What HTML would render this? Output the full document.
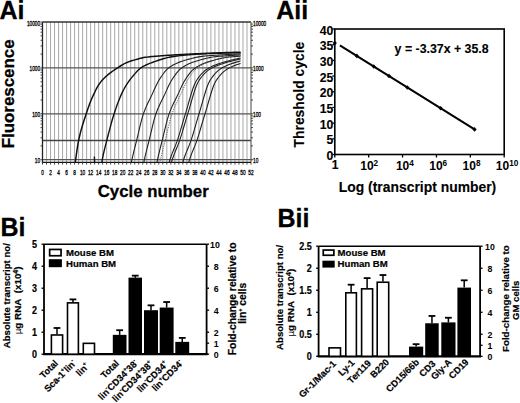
<!DOCTYPE html>
<html><head><meta charset="utf-8"><style>html,body{margin:0;padding:0;background:#fff;overflow:hidden}svg{display:block}text{font-family:"Liberation Sans",sans-serif}</style></head>
<body>
<svg width="520" height="403" viewBox="0 0 520 403">
<defs><clipPath id="clipA"><rect x="42.5" y="22.0" width="208.5" height="140.4"/></clipPath></defs>
<rect width="520" height="403" fill="#fff"/>
<text x="-0.5" y="18.6" font-family="Liberation Sans" font-size="25" font-weight="bold" text-anchor="start" fill="#000" stroke="#000" stroke-width="0.3">Ai</text>
<line x1="46.51" y1="22" x2="46.51" y2="162.4" stroke="#acacac" stroke-width="1.05"/>
<line x1="50.52" y1="22" x2="50.52" y2="162.4" stroke="#acacac" stroke-width="1.05"/>
<line x1="54.53" y1="22" x2="54.53" y2="162.4" stroke="#acacac" stroke-width="1.05"/>
<line x1="58.54" y1="22" x2="58.54" y2="162.4" stroke="#acacac" stroke-width="1.05"/>
<line x1="62.55" y1="22" x2="62.55" y2="162.4" stroke="#acacac" stroke-width="1.05"/>
<line x1="66.56" y1="22" x2="66.56" y2="162.4" stroke="#acacac" stroke-width="1.05"/>
<line x1="70.57" y1="22" x2="70.57" y2="162.4" stroke="#acacac" stroke-width="1.05"/>
<line x1="74.58" y1="22" x2="74.58" y2="162.4" stroke="#acacac" stroke-width="1.05"/>
<line x1="78.59" y1="22" x2="78.59" y2="162.4" stroke="#acacac" stroke-width="1.05"/>
<line x1="82.6" y1="22" x2="82.6" y2="162.4" stroke="#acacac" stroke-width="1.05"/>
<line x1="86.61" y1="22" x2="86.61" y2="162.4" stroke="#acacac" stroke-width="1.05"/>
<line x1="90.62" y1="22" x2="90.62" y2="162.4" stroke="#acacac" stroke-width="1.05"/>
<line x1="94.62" y1="22" x2="94.62" y2="162.4" stroke="#acacac" stroke-width="1.05"/>
<line x1="98.63" y1="22" x2="98.63" y2="162.4" stroke="#acacac" stroke-width="1.05"/>
<line x1="102.64" y1="22" x2="102.64" y2="162.4" stroke="#acacac" stroke-width="1.05"/>
<line x1="106.65" y1="22" x2="106.65" y2="162.4" stroke="#acacac" stroke-width="1.05"/>
<line x1="110.66" y1="22" x2="110.66" y2="162.4" stroke="#acacac" stroke-width="1.05"/>
<line x1="114.67" y1="22" x2="114.67" y2="162.4" stroke="#acacac" stroke-width="1.05"/>
<line x1="118.68" y1="22" x2="118.68" y2="162.4" stroke="#acacac" stroke-width="1.05"/>
<line x1="122.69" y1="22" x2="122.69" y2="162.4" stroke="#acacac" stroke-width="1.05"/>
<line x1="126.7" y1="22" x2="126.7" y2="162.4" stroke="#acacac" stroke-width="1.05"/>
<line x1="130.71" y1="22" x2="130.71" y2="162.4" stroke="#acacac" stroke-width="1.05"/>
<line x1="134.72" y1="22" x2="134.72" y2="162.4" stroke="#acacac" stroke-width="1.05"/>
<line x1="138.73" y1="22" x2="138.73" y2="162.4" stroke="#acacac" stroke-width="1.05"/>
<line x1="142.74" y1="22" x2="142.74" y2="162.4" stroke="#acacac" stroke-width="1.05"/>
<line x1="146.75" y1="22" x2="146.75" y2="162.4" stroke="#acacac" stroke-width="1.05"/>
<line x1="150.76" y1="22" x2="150.76" y2="162.4" stroke="#acacac" stroke-width="1.05"/>
<line x1="154.77" y1="22" x2="154.77" y2="162.4" stroke="#acacac" stroke-width="1.05"/>
<line x1="158.78" y1="22" x2="158.78" y2="162.4" stroke="#acacac" stroke-width="1.05"/>
<line x1="162.79" y1="22" x2="162.79" y2="162.4" stroke="#acacac" stroke-width="1.05"/>
<line x1="166.8" y1="22" x2="166.8" y2="162.4" stroke="#acacac" stroke-width="1.05"/>
<line x1="170.81" y1="22" x2="170.81" y2="162.4" stroke="#acacac" stroke-width="1.05"/>
<line x1="174.82" y1="22" x2="174.82" y2="162.4" stroke="#acacac" stroke-width="1.05"/>
<line x1="178.83" y1="22" x2="178.83" y2="162.4" stroke="#acacac" stroke-width="1.05"/>
<line x1="182.84" y1="22" x2="182.84" y2="162.4" stroke="#acacac" stroke-width="1.05"/>
<line x1="186.85" y1="22" x2="186.85" y2="162.4" stroke="#acacac" stroke-width="1.05"/>
<line x1="190.86" y1="22" x2="190.86" y2="162.4" stroke="#acacac" stroke-width="1.05"/>
<line x1="194.87" y1="22" x2="194.87" y2="162.4" stroke="#acacac" stroke-width="1.05"/>
<line x1="198.88" y1="22" x2="198.88" y2="162.4" stroke="#acacac" stroke-width="1.05"/>
<line x1="202.88" y1="22" x2="202.88" y2="162.4" stroke="#acacac" stroke-width="1.05"/>
<line x1="206.89" y1="22" x2="206.89" y2="162.4" stroke="#acacac" stroke-width="1.05"/>
<line x1="210.9" y1="22" x2="210.9" y2="162.4" stroke="#acacac" stroke-width="1.05"/>
<line x1="214.91" y1="22" x2="214.91" y2="162.4" stroke="#acacac" stroke-width="1.05"/>
<line x1="218.92" y1="22" x2="218.92" y2="162.4" stroke="#acacac" stroke-width="1.05"/>
<line x1="222.93" y1="22" x2="222.93" y2="162.4" stroke="#acacac" stroke-width="1.05"/>
<line x1="226.94" y1="22" x2="226.94" y2="162.4" stroke="#acacac" stroke-width="1.05"/>
<line x1="230.95" y1="22" x2="230.95" y2="162.4" stroke="#acacac" stroke-width="1.05"/>
<line x1="234.96" y1="22" x2="234.96" y2="162.4" stroke="#acacac" stroke-width="1.05"/>
<line x1="238.97" y1="22" x2="238.97" y2="162.4" stroke="#acacac" stroke-width="1.05"/>
<line x1="242.98" y1="22" x2="242.98" y2="162.4" stroke="#acacac" stroke-width="1.05"/>
<line x1="246.99" y1="22" x2="246.99" y2="162.4" stroke="#acacac" stroke-width="1.05"/>
<line x1="42.5" y1="67.9" x2="251" y2="67.9" stroke="#555" stroke-width="1.3"/>
<line x1="42.5" y1="113.8" x2="251" y2="113.8" stroke="#555" stroke-width="1.3"/>
<line x1="42.5" y1="159.7" x2="251" y2="159.7" stroke="#555" stroke-width="1.3"/>
<line x1="42.5" y1="140.5" x2="251" y2="140.5" stroke="#444" stroke-width="1.6"/>
<line x1="42.5" y1="22" x2="251" y2="22" stroke="#333" stroke-width="1.3"/>
<line x1="251" y1="22" x2="251" y2="162.4" stroke="#555" stroke-width="1.1"/>
<line x1="42.5" y1="22" x2="42.5" y2="163.4" stroke="#222" stroke-width="1.3"/>
<line x1="42.5" y1="162.4" x2="251" y2="162.4" stroke="#111" stroke-width="1.4"/>
<line x1="42.5" y1="162.4" x2="42.5" y2="164.6" stroke="#333" stroke-width="0.9"/>
<line x1="46.51" y1="162.4" x2="46.51" y2="164.6" stroke="#333" stroke-width="0.9"/>
<line x1="50.52" y1="162.4" x2="50.52" y2="164.6" stroke="#333" stroke-width="0.9"/>
<line x1="54.53" y1="162.4" x2="54.53" y2="164.6" stroke="#333" stroke-width="0.9"/>
<line x1="58.54" y1="162.4" x2="58.54" y2="164.6" stroke="#333" stroke-width="0.9"/>
<line x1="62.55" y1="162.4" x2="62.55" y2="164.6" stroke="#333" stroke-width="0.9"/>
<line x1="66.56" y1="162.4" x2="66.56" y2="164.6" stroke="#333" stroke-width="0.9"/>
<line x1="70.57" y1="162.4" x2="70.57" y2="164.6" stroke="#333" stroke-width="0.9"/>
<line x1="74.58" y1="162.4" x2="74.58" y2="164.6" stroke="#333" stroke-width="0.9"/>
<line x1="78.59" y1="162.4" x2="78.59" y2="164.6" stroke="#333" stroke-width="0.9"/>
<line x1="82.6" y1="162.4" x2="82.6" y2="164.6" stroke="#333" stroke-width="0.9"/>
<line x1="86.61" y1="162.4" x2="86.61" y2="164.6" stroke="#333" stroke-width="0.9"/>
<line x1="90.62" y1="162.4" x2="90.62" y2="164.6" stroke="#333" stroke-width="0.9"/>
<line x1="94.62" y1="162.4" x2="94.62" y2="164.6" stroke="#333" stroke-width="0.9"/>
<line x1="98.63" y1="162.4" x2="98.63" y2="164.6" stroke="#333" stroke-width="0.9"/>
<line x1="102.64" y1="162.4" x2="102.64" y2="164.6" stroke="#333" stroke-width="0.9"/>
<line x1="106.65" y1="162.4" x2="106.65" y2="164.6" stroke="#333" stroke-width="0.9"/>
<line x1="110.66" y1="162.4" x2="110.66" y2="164.6" stroke="#333" stroke-width="0.9"/>
<line x1="114.67" y1="162.4" x2="114.67" y2="164.6" stroke="#333" stroke-width="0.9"/>
<line x1="118.68" y1="162.4" x2="118.68" y2="164.6" stroke="#333" stroke-width="0.9"/>
<line x1="122.69" y1="162.4" x2="122.69" y2="164.6" stroke="#333" stroke-width="0.9"/>
<line x1="126.7" y1="162.4" x2="126.7" y2="164.6" stroke="#333" stroke-width="0.9"/>
<line x1="130.71" y1="162.4" x2="130.71" y2="164.6" stroke="#333" stroke-width="0.9"/>
<line x1="134.72" y1="162.4" x2="134.72" y2="164.6" stroke="#333" stroke-width="0.9"/>
<line x1="138.73" y1="162.4" x2="138.73" y2="164.6" stroke="#333" stroke-width="0.9"/>
<line x1="142.74" y1="162.4" x2="142.74" y2="164.6" stroke="#333" stroke-width="0.9"/>
<line x1="146.75" y1="162.4" x2="146.75" y2="164.6" stroke="#333" stroke-width="0.9"/>
<line x1="150.76" y1="162.4" x2="150.76" y2="164.6" stroke="#333" stroke-width="0.9"/>
<line x1="154.77" y1="162.4" x2="154.77" y2="164.6" stroke="#333" stroke-width="0.9"/>
<line x1="158.78" y1="162.4" x2="158.78" y2="164.6" stroke="#333" stroke-width="0.9"/>
<line x1="162.79" y1="162.4" x2="162.79" y2="164.6" stroke="#333" stroke-width="0.9"/>
<line x1="166.8" y1="162.4" x2="166.8" y2="164.6" stroke="#333" stroke-width="0.9"/>
<line x1="170.81" y1="162.4" x2="170.81" y2="164.6" stroke="#333" stroke-width="0.9"/>
<line x1="174.82" y1="162.4" x2="174.82" y2="164.6" stroke="#333" stroke-width="0.9"/>
<line x1="178.83" y1="162.4" x2="178.83" y2="164.6" stroke="#333" stroke-width="0.9"/>
<line x1="182.84" y1="162.4" x2="182.84" y2="164.6" stroke="#333" stroke-width="0.9"/>
<line x1="186.85" y1="162.4" x2="186.85" y2="164.6" stroke="#333" stroke-width="0.9"/>
<line x1="190.86" y1="162.4" x2="190.86" y2="164.6" stroke="#333" stroke-width="0.9"/>
<line x1="194.87" y1="162.4" x2="194.87" y2="164.6" stroke="#333" stroke-width="0.9"/>
<line x1="198.88" y1="162.4" x2="198.88" y2="164.6" stroke="#333" stroke-width="0.9"/>
<line x1="202.88" y1="162.4" x2="202.88" y2="164.6" stroke="#333" stroke-width="0.9"/>
<line x1="206.89" y1="162.4" x2="206.89" y2="164.6" stroke="#333" stroke-width="0.9"/>
<line x1="210.9" y1="162.4" x2="210.9" y2="164.6" stroke="#333" stroke-width="0.9"/>
<line x1="214.91" y1="162.4" x2="214.91" y2="164.6" stroke="#333" stroke-width="0.9"/>
<line x1="218.92" y1="162.4" x2="218.92" y2="164.6" stroke="#333" stroke-width="0.9"/>
<line x1="222.93" y1="162.4" x2="222.93" y2="164.6" stroke="#333" stroke-width="0.9"/>
<line x1="226.94" y1="162.4" x2="226.94" y2="164.6" stroke="#333" stroke-width="0.9"/>
<line x1="230.95" y1="162.4" x2="230.95" y2="164.6" stroke="#333" stroke-width="0.9"/>
<line x1="234.96" y1="162.4" x2="234.96" y2="164.6" stroke="#333" stroke-width="0.9"/>
<line x1="238.97" y1="162.4" x2="238.97" y2="164.6" stroke="#333" stroke-width="0.9"/>
<line x1="242.98" y1="162.4" x2="242.98" y2="164.6" stroke="#333" stroke-width="0.9"/>
<line x1="246.99" y1="162.4" x2="246.99" y2="164.6" stroke="#333" stroke-width="0.9"/>
<line x1="251" y1="162.4" x2="251" y2="164.6" stroke="#333" stroke-width="0.9"/>
<line x1="40.5" y1="159.7" x2="42.5" y2="159.7" stroke="#333" stroke-width="0.9"/>
<line x1="40.5" y1="145.88" x2="42.5" y2="145.88" stroke="#333" stroke-width="0.9"/>
<line x1="40.5" y1="137.8" x2="42.5" y2="137.8" stroke="#333" stroke-width="0.9"/>
<line x1="40.5" y1="132.07" x2="42.5" y2="132.07" stroke="#333" stroke-width="0.9"/>
<line x1="40.5" y1="127.62" x2="42.5" y2="127.62" stroke="#333" stroke-width="0.9"/>
<line x1="40.5" y1="123.98" x2="42.5" y2="123.98" stroke="#333" stroke-width="0.9"/>
<line x1="40.5" y1="120.91" x2="42.5" y2="120.91" stroke="#333" stroke-width="0.9"/>
<line x1="40.5" y1="118.25" x2="42.5" y2="118.25" stroke="#333" stroke-width="0.9"/>
<line x1="40.5" y1="115.9" x2="42.5" y2="115.9" stroke="#333" stroke-width="0.9"/>
<line x1="40.5" y1="113.8" x2="42.5" y2="113.8" stroke="#333" stroke-width="0.9"/>
<line x1="40.5" y1="99.98" x2="42.5" y2="99.98" stroke="#333" stroke-width="0.9"/>
<line x1="40.5" y1="91.9" x2="42.5" y2="91.9" stroke="#333" stroke-width="0.9"/>
<line x1="40.5" y1="86.17" x2="42.5" y2="86.17" stroke="#333" stroke-width="0.9"/>
<line x1="40.5" y1="81.72" x2="42.5" y2="81.72" stroke="#333" stroke-width="0.9"/>
<line x1="40.5" y1="78.08" x2="42.5" y2="78.08" stroke="#333" stroke-width="0.9"/>
<line x1="40.5" y1="75.01" x2="42.5" y2="75.01" stroke="#333" stroke-width="0.9"/>
<line x1="40.5" y1="72.35" x2="42.5" y2="72.35" stroke="#333" stroke-width="0.9"/>
<line x1="40.5" y1="70" x2="42.5" y2="70" stroke="#333" stroke-width="0.9"/>
<line x1="40.5" y1="67.9" x2="42.5" y2="67.9" stroke="#333" stroke-width="0.9"/>
<line x1="40.5" y1="54.08" x2="42.5" y2="54.08" stroke="#333" stroke-width="0.9"/>
<line x1="40.5" y1="46" x2="42.5" y2="46" stroke="#333" stroke-width="0.9"/>
<line x1="40.5" y1="40.27" x2="42.5" y2="40.27" stroke="#333" stroke-width="0.9"/>
<line x1="40.5" y1="35.82" x2="42.5" y2="35.82" stroke="#333" stroke-width="0.9"/>
<line x1="40.5" y1="32.18" x2="42.5" y2="32.18" stroke="#333" stroke-width="0.9"/>
<line x1="40.5" y1="29.11" x2="42.5" y2="29.11" stroke="#333" stroke-width="0.9"/>
<line x1="40.5" y1="26.45" x2="42.5" y2="26.45" stroke="#333" stroke-width="0.9"/>
<line x1="40.5" y1="24.1" x2="42.5" y2="24.1" stroke="#333" stroke-width="0.9"/>
<line x1="40.5" y1="22" x2="42.5" y2="22" stroke="#333" stroke-width="0.9"/>
<line x1="251" y1="159.7" x2="253" y2="159.7" stroke="#333" stroke-width="0.9"/>
<line x1="251" y1="145.88" x2="253" y2="145.88" stroke="#333" stroke-width="0.9"/>
<line x1="251" y1="137.8" x2="253" y2="137.8" stroke="#333" stroke-width="0.9"/>
<line x1="251" y1="132.07" x2="253" y2="132.07" stroke="#333" stroke-width="0.9"/>
<line x1="251" y1="127.62" x2="253" y2="127.62" stroke="#333" stroke-width="0.9"/>
<line x1="251" y1="123.98" x2="253" y2="123.98" stroke="#333" stroke-width="0.9"/>
<line x1="251" y1="120.91" x2="253" y2="120.91" stroke="#333" stroke-width="0.9"/>
<line x1="251" y1="118.25" x2="253" y2="118.25" stroke="#333" stroke-width="0.9"/>
<line x1="251" y1="115.9" x2="253" y2="115.9" stroke="#333" stroke-width="0.9"/>
<line x1="251" y1="113.8" x2="253" y2="113.8" stroke="#333" stroke-width="0.9"/>
<line x1="251" y1="99.98" x2="253" y2="99.98" stroke="#333" stroke-width="0.9"/>
<line x1="251" y1="91.9" x2="253" y2="91.9" stroke="#333" stroke-width="0.9"/>
<line x1="251" y1="86.17" x2="253" y2="86.17" stroke="#333" stroke-width="0.9"/>
<line x1="251" y1="81.72" x2="253" y2="81.72" stroke="#333" stroke-width="0.9"/>
<line x1="251" y1="78.08" x2="253" y2="78.08" stroke="#333" stroke-width="0.9"/>
<line x1="251" y1="75.01" x2="253" y2="75.01" stroke="#333" stroke-width="0.9"/>
<line x1="251" y1="72.35" x2="253" y2="72.35" stroke="#333" stroke-width="0.9"/>
<line x1="251" y1="70" x2="253" y2="70" stroke="#333" stroke-width="0.9"/>
<line x1="251" y1="67.9" x2="253" y2="67.9" stroke="#333" stroke-width="0.9"/>
<line x1="251" y1="54.08" x2="253" y2="54.08" stroke="#333" stroke-width="0.9"/>
<line x1="251" y1="46" x2="253" y2="46" stroke="#333" stroke-width="0.9"/>
<line x1="251" y1="40.27" x2="253" y2="40.27" stroke="#333" stroke-width="0.9"/>
<line x1="251" y1="35.82" x2="253" y2="35.82" stroke="#333" stroke-width="0.9"/>
<line x1="251" y1="32.18" x2="253" y2="32.18" stroke="#333" stroke-width="0.9"/>
<line x1="251" y1="29.11" x2="253" y2="29.11" stroke="#333" stroke-width="0.9"/>
<line x1="251" y1="26.45" x2="253" y2="26.45" stroke="#333" stroke-width="0.9"/>
<line x1="251" y1="24.1" x2="253" y2="24.1" stroke="#333" stroke-width="0.9"/>
<text x="0" y="0" font-family="Liberation Sans" font-size="7.9" text-anchor="end" fill="#000" stroke="#000" stroke-width="0.35" transform="translate(40.1,25.5) scale(0.6,1)">10000</text>
<text x="0" y="0" font-family="Liberation Sans" font-size="7.9" text-anchor="start" fill="#000" stroke="#000" stroke-width="0.35" transform="translate(253,25.5) scale(0.6,1)">10000</text>
<text x="0" y="0" font-family="Liberation Sans" font-size="7.9" text-anchor="end" fill="#000" stroke="#000" stroke-width="0.35" transform="translate(40.1,71.4) scale(0.6,1)">1000</text>
<text x="0" y="0" font-family="Liberation Sans" font-size="7.9" text-anchor="start" fill="#000" stroke="#000" stroke-width="0.35" transform="translate(253,71.4) scale(0.6,1)">1000</text>
<text x="0" y="0" font-family="Liberation Sans" font-size="7.9" text-anchor="end" fill="#000" stroke="#000" stroke-width="0.35" transform="translate(40.1,117.3) scale(0.6,1)">100</text>
<text x="0" y="0" font-family="Liberation Sans" font-size="7.9" text-anchor="start" fill="#000" stroke="#000" stroke-width="0.35" transform="translate(253,117.3) scale(0.6,1)">100</text>
<text x="0" y="0" font-family="Liberation Sans" font-size="7.9" text-anchor="end" fill="#000" stroke="#000" stroke-width="0.35" transform="translate(40.1,163.2) scale(0.6,1)">10</text>
<text x="0" y="0" font-family="Liberation Sans" font-size="7.9" text-anchor="start" fill="#000" stroke="#000" stroke-width="0.35" transform="translate(253,163.2) scale(0.6,1)">10</text>
<text x="0" y="0" font-family="Liberation Sans" font-size="7.9" text-anchor="middle" fill="#000" stroke="#000" stroke-width="0.35" transform="translate(42.5,174.7) scale(0.6,1)">0</text>
<text x="0" y="0" font-family="Liberation Sans" font-size="7.9" text-anchor="middle" fill="#000" stroke="#000" stroke-width="0.35" transform="translate(50.52,174.7) scale(0.6,1)">2</text>
<text x="0" y="0" font-family="Liberation Sans" font-size="7.9" text-anchor="middle" fill="#000" stroke="#000" stroke-width="0.35" transform="translate(58.54,174.7) scale(0.6,1)">4</text>
<text x="0" y="0" font-family="Liberation Sans" font-size="7.9" text-anchor="middle" fill="#000" stroke="#000" stroke-width="0.35" transform="translate(66.56,174.7) scale(0.6,1)">6</text>
<text x="0" y="0" font-family="Liberation Sans" font-size="7.9" text-anchor="middle" fill="#000" stroke="#000" stroke-width="0.35" transform="translate(74.58,174.7) scale(0.6,1)">8</text>
<text x="0" y="0" font-family="Liberation Sans" font-size="7.9" text-anchor="middle" fill="#000" stroke="#000" stroke-width="0.35" transform="translate(82.6,174.7) scale(0.6,1)">10</text>
<text x="0" y="0" font-family="Liberation Sans" font-size="7.9" text-anchor="middle" fill="#000" stroke="#000" stroke-width="0.35" transform="translate(90.62,174.7) scale(0.6,1)">12</text>
<text x="0" y="0" font-family="Liberation Sans" font-size="7.9" text-anchor="middle" fill="#000" stroke="#000" stroke-width="0.35" transform="translate(98.63,174.7) scale(0.6,1)">14</text>
<text x="0" y="0" font-family="Liberation Sans" font-size="7.9" text-anchor="middle" fill="#000" stroke="#000" stroke-width="0.35" transform="translate(106.65,174.7) scale(0.6,1)">16</text>
<text x="0" y="0" font-family="Liberation Sans" font-size="7.9" text-anchor="middle" fill="#000" stroke="#000" stroke-width="0.35" transform="translate(114.67,174.7) scale(0.6,1)">18</text>
<text x="0" y="0" font-family="Liberation Sans" font-size="7.9" text-anchor="middle" fill="#000" stroke="#000" stroke-width="0.35" transform="translate(122.69,174.7) scale(0.6,1)">20</text>
<text x="0" y="0" font-family="Liberation Sans" font-size="7.9" text-anchor="middle" fill="#000" stroke="#000" stroke-width="0.35" transform="translate(130.71,174.7) scale(0.6,1)">22</text>
<text x="0" y="0" font-family="Liberation Sans" font-size="7.9" text-anchor="middle" fill="#000" stroke="#000" stroke-width="0.35" transform="translate(138.73,174.7) scale(0.6,1)">24</text>
<text x="0" y="0" font-family="Liberation Sans" font-size="7.9" text-anchor="middle" fill="#000" stroke="#000" stroke-width="0.35" transform="translate(146.75,174.7) scale(0.6,1)">26</text>
<text x="0" y="0" font-family="Liberation Sans" font-size="7.9" text-anchor="middle" fill="#000" stroke="#000" stroke-width="0.35" transform="translate(154.77,174.7) scale(0.6,1)">28</text>
<text x="0" y="0" font-family="Liberation Sans" font-size="7.9" text-anchor="middle" fill="#000" stroke="#000" stroke-width="0.35" transform="translate(162.79,174.7) scale(0.6,1)">30</text>
<text x="0" y="0" font-family="Liberation Sans" font-size="7.9" text-anchor="middle" fill="#000" stroke="#000" stroke-width="0.35" transform="translate(170.81,174.7) scale(0.6,1)">32</text>
<text x="0" y="0" font-family="Liberation Sans" font-size="7.9" text-anchor="middle" fill="#000" stroke="#000" stroke-width="0.35" transform="translate(178.83,174.7) scale(0.6,1)">34</text>
<text x="0" y="0" font-family="Liberation Sans" font-size="7.9" text-anchor="middle" fill="#000" stroke="#000" stroke-width="0.35" transform="translate(186.85,174.7) scale(0.6,1)">36</text>
<text x="0" y="0" font-family="Liberation Sans" font-size="7.9" text-anchor="middle" fill="#000" stroke="#000" stroke-width="0.35" transform="translate(194.87,174.7) scale(0.6,1)">38</text>
<text x="0" y="0" font-family="Liberation Sans" font-size="7.9" text-anchor="middle" fill="#000" stroke="#000" stroke-width="0.35" transform="translate(202.88,174.7) scale(0.6,1)">40</text>
<text x="0" y="0" font-family="Liberation Sans" font-size="7.9" text-anchor="middle" fill="#000" stroke="#000" stroke-width="0.35" transform="translate(210.9,174.7) scale(0.6,1)">42</text>
<text x="0" y="0" font-family="Liberation Sans" font-size="7.9" text-anchor="middle" fill="#000" stroke="#000" stroke-width="0.35" transform="translate(218.92,174.7) scale(0.6,1)">44</text>
<text x="0" y="0" font-family="Liberation Sans" font-size="7.9" text-anchor="middle" fill="#000" stroke="#000" stroke-width="0.35" transform="translate(226.94,174.7) scale(0.6,1)">46</text>
<text x="0" y="0" font-family="Liberation Sans" font-size="7.9" text-anchor="middle" fill="#000" stroke="#000" stroke-width="0.35" transform="translate(234.96,174.7) scale(0.6,1)">48</text>
<text x="0" y="0" font-family="Liberation Sans" font-size="7.9" text-anchor="middle" fill="#000" stroke="#000" stroke-width="0.35" transform="translate(242.98,174.7) scale(0.6,1)">50</text>
<text x="0" y="0" font-family="Liberation Sans" font-size="7.9" text-anchor="middle" fill="#000" stroke="#000" stroke-width="0.35" transform="translate(251,174.7) scale(0.6,1)">52</text>
<g clip-path="url(#clipA)">
<path d="M73.90,171.23 L74.70,165.95 L75.50,160.66 L76.30,155.05 L77.10,149.41 L77.90,144.26 L78.71,140.07 L79.51,136.47 L80.31,133.16 L81.11,130.10 L81.91,127.25 L82.72,124.57 L83.52,122.00 L84.32,119.52 L85.12,117.08 L85.92,114.62 L86.73,112.19 L87.53,109.81 L88.33,107.49 L89.13,105.25 L89.93,103.10 L90.74,101.04 L92.34,97.27 L93.94,93.82 L95.55,90.52 L97.15,87.47 L98.75,84.73 L100.36,82.39 L101.96,80.47 L103.57,78.74 L105.17,77.16 L106.77,75.70 L108.38,74.34 L109.98,73.08 L111.59,71.89 L113.19,70.76 L114.79,69.67 L116.40,68.60 L118.00,67.54 L119.60,66.50 L121.21,65.50 L122.81,64.56 L124.42,63.69 L126.02,62.90 L127.62,62.21 L129.23,61.61 L130.83,61.06 L132.44,60.56 L134.04,60.10 L135.64,59.64 L137.25,59.18 L138.85,58.72 L140.45,58.30 L142.06,57.91 L143.66,57.59 L145.27,57.34 L146.87,57.13 L148.47,56.94 L150.08,56.76 L151.68,56.59 L153.29,56.44 L154.89,56.30 L156.49,56.16 L158.10,56.04 L159.70,55.92 L161.30,55.80 L162.91,55.69 L164.51,55.58 L166.12,55.48 L167.72,55.37 L169.32,55.26 L170.93,55.16 L172.53,55.05 L174.14,54.95 L175.74,54.86 L177.34,54.76 L178.95,54.67 L180.55,54.57 L182.15,54.49 L183.76,54.40 L185.36,54.31 L186.97,54.23 L188.57,54.15 L190.17,54.07 L191.78,53.99 L193.38,53.92 L194.99,53.84 L196.59,53.77 L198.19,53.70 L199.80,53.63 L201.40,53.56 L203.00,53.49 L204.61,53.42 L206.21,53.35 L207.82,53.28 L209.42,53.22 L211.02,53.15 L212.63,53.09 L214.23,53.02 L215.84,52.96 L217.44,52.90 L219.04,52.83 L220.65,52.77 L222.25,52.72 L223.85,52.66 L225.46,52.60 L227.06,52.54 L228.67,52.49 L230.27,52.44 L231.87,52.38 L233.48,52.33 L235.08,52.28 L236.69,52.24 L238.29,52.19 L239.89,52.14 L240.57,52.13" stroke="#111" stroke-width="1.5" fill="none" stroke-linejoin="round"/>
<path d="M94.34,156.44 L95.15,171.86 L95.95,181.60 L96.75,186.55 L97.55,187.56 L98.35,185.50 L99.16,181.22 L99.96,175.60 L100.76,169.49 L101.56,163.76 L102.36,159.13 L103.17,155.17 L103.97,151.61 L104.77,148.32 L105.57,145.19 L106.37,142.09 L107.18,138.92 L107.98,135.77 L108.78,132.65 L109.58,129.58 L110.38,126.58 L111.18,123.65 L111.99,120.81 L112.79,118.07 L113.59,115.44 L114.39,112.93 L115.19,110.50 L116.00,108.14 L116.80,105.85 L117.60,103.63 L118.40,101.49 L119.20,99.44 L120.81,95.61 L122.41,92.14 L124.02,88.98 L125.62,86.13 L127.22,83.60 L128.83,81.28 L130.43,79.14 L132.03,77.14 L133.64,75.24 L135.24,73.37 L136.85,71.54 L138.45,69.86 L140.05,68.43 L141.66,67.32 L143.26,66.36 L144.87,65.51 L146.47,64.75 L148.07,64.07 L149.68,63.43 L151.28,62.83 L152.88,62.23 L154.49,61.64 L156.09,61.07 L157.70,60.51 L159.30,59.98 L160.90,59.46 L162.51,58.97 L164.11,58.51 L165.72,58.08 L167.32,57.68 L168.92,57.31 L170.53,56.99 L172.13,56.70 L173.73,56.46 L175.34,56.25 L176.94,56.04 L178.55,55.85 L180.15,55.67 L181.75,55.49 L183.36,55.32 L184.96,55.16 L186.57,55.00 L188.17,54.86 L189.77,54.72 L191.38,54.59 L192.98,54.47 L194.58,54.35 L196.19,54.24 L197.79,54.14 L199.40,54.04 L201.00,53.95 L202.60,53.87 L204.21,53.79 L205.81,53.72 L207.42,53.66 L209.02,53.59 L210.62,53.53 L212.23,53.47 L213.83,53.41 L215.43,53.35 L217.04,53.29 L218.64,53.24 L220.25,53.18 L221.85,53.13 L223.45,53.08 L225.06,53.03 L226.66,52.99 L228.27,52.95 L229.87,52.91 L231.47,52.88 L233.08,52.85 L234.68,52.82 L236.28,52.80 L237.89,52.78 L239.49,52.77 L240.57,52.76" stroke="#111" stroke-width="1.4" fill="none" stroke-linejoin="round"/>
<path d="M129.79,170.34 L130.59,166.05 L131.39,162.02 L132.20,158.34 L133.00,154.89 L133.80,151.60 L134.60,148.41 L135.40,145.26 L136.20,142.11 L137.01,138.89 L137.81,135.54 L138.61,132.13 L139.41,128.71 L140.21,125.36 L141.02,122.12 L141.82,119.08 L142.62,116.28 L143.42,113.80 L144.22,111.58 L145.03,109.52 L145.83,107.59 L146.63,105.77 L147.43,104.04 L148.23,102.36 L149.04,100.73 L150.64,97.49 L152.24,94.12 L153.85,90.59 L155.45,87.06 L157.05,83.71 L158.66,80.70 L160.26,78.13 L161.87,75.73 L163.47,73.47 L165.07,71.42 L166.68,69.65 L168.28,68.20 L169.89,67.06 L171.49,66.02 L173.09,65.08 L174.70,64.23 L176.30,63.45 L177.90,62.75 L179.51,62.12 L181.11,61.54 L182.72,61.02 L184.32,60.52 L185.92,60.03 L187.53,59.56 L189.13,59.10 L190.74,58.67 L192.34,58.25 L193.94,57.86 L195.55,57.50 L197.15,57.16 L198.75,56.86 L200.36,56.59 L201.96,56.35 L203.57,56.16 L205.17,56.00 L206.77,55.87 L208.38,55.75 L209.98,55.63 L211.59,55.52 L213.19,55.40 L214.79,55.29 L216.40,55.18 L218.00,55.08 L219.60,54.97 L221.21,54.87 L222.81,54.77 L224.42,54.68 L226.02,54.59 L227.62,54.50 L229.23,54.41 L230.83,54.33 L232.44,54.25 L234.04,54.17 L235.64,54.09 L237.25,54.02 L238.85,53.95 L240.45,53.88 L240.57,53.88" stroke="#222" stroke-width="1.1" fill="none" stroke-linejoin="round"/>
<path d="M142.26,170.34 L143.06,166.05 L143.86,162.02 L144.67,158.34 L145.47,154.89 L146.27,151.60 L147.07,148.41 L147.87,145.26 L148.67,142.11 L149.48,138.90 L150.28,135.57 L151.08,132.18 L151.88,128.78 L152.68,125.44 L153.49,122.23 L154.29,119.20 L155.09,116.41 L155.89,113.94 L156.69,111.74 L157.50,109.69 L158.30,107.77 L159.10,105.96 L159.90,104.23 L160.70,102.57 L161.51,100.95 L163.11,97.72 L164.71,94.37 L166.32,90.86 L167.92,87.35 L169.52,84.01 L171.13,81.02 L172.73,78.47 L174.34,76.07 L175.94,73.83 L177.54,71.79 L179.15,70.03 L180.75,68.59 L182.36,67.45 L183.96,66.42 L185.56,65.48 L187.17,64.63 L188.77,63.86 L190.37,63.17 L191.98,62.54 L193.58,61.96 L195.19,61.44 L196.79,60.94 L198.39,60.46 L200.00,59.99 L201.60,59.54 L203.21,59.10 L204.81,58.69 L206.41,58.30 L208.02,57.94 L209.62,57.61 L211.22,57.30 L212.83,57.03 L214.43,56.80 L216.04,56.60 L217.64,56.45 L219.24,56.32 L220.85,56.20 L222.45,56.08 L224.06,55.97 L225.66,55.85 L227.26,55.74 L228.87,55.64 L230.47,55.53 L232.07,55.43 L233.68,55.33 L235.28,55.23 L236.89,55.14 L238.49,55.04 L240.09,54.95 L240.57,54.93" stroke="#222" stroke-width="1.1" fill="none" stroke-linejoin="round"/>
<path d="M155.37,170.34 L156.17,166.05 L156.97,162.02 L157.78,158.34 L158.58,154.89 L159.38,151.60 L160.18,148.41 L160.98,145.26 L161.79,142.11 L162.59,138.91 L163.39,135.60 L164.19,132.22 L164.99,128.84 L165.80,125.52 L166.60,122.33 L167.40,119.31 L168.20,116.55 L169.00,114.09 L169.81,111.89 L170.61,109.85 L171.41,107.95 L172.21,106.14 L173.01,104.43 L173.81,102.78 L174.62,101.16 L176.22,97.95 L177.82,94.62 L179.43,91.12 L181.03,87.63 L182.64,84.31 L184.24,81.34 L185.84,78.80 L187.45,76.42 L189.05,74.18 L190.66,72.16 L192.26,70.40 L193.86,68.97 L195.47,67.84 L197.07,66.81 L198.67,65.88 L200.28,65.04 L201.88,64.27 L203.49,63.58 L205.09,62.95 L206.69,62.38 L208.30,61.86 L209.90,61.37 L211.51,60.89 L213.11,60.42 L214.71,59.97 L216.32,59.54 L217.92,59.13 L219.52,58.74 L221.13,58.38 L222.73,58.05 L224.34,57.75 L225.94,57.48 L227.54,57.25 L229.15,57.05 L230.75,56.90 L232.36,56.77 L233.96,56.65 L235.56,56.53 L237.17,56.42 L238.77,56.31 L240.37,56.20 L240.57,56.18" stroke="#222" stroke-width="1.1" fill="none" stroke-linejoin="round"/>
<path d="M158.38,170.34 L159.18,166.05 L159.98,162.02 L160.78,158.34 L161.59,154.89 L162.39,151.60 L163.19,148.41 L163.99,145.26 L164.79,142.11 L165.60,138.89 L166.40,135.54 L167.20,132.13 L168.00,128.71 L168.80,125.36 L169.60,122.12 L170.41,119.08 L171.21,116.28 L172.01,113.80 L172.81,111.58 L173.61,109.52 L174.42,107.59 L175.22,105.77 L176.02,104.04 L176.82,102.36 L177.62,100.73 L179.23,97.49 L180.83,94.12 L182.44,90.59 L184.04,87.06 L185.64,83.71 L187.25,80.70 L188.85,78.13 L190.45,75.73 L192.06,73.47 L193.66,71.42 L195.27,69.65 L196.87,68.20 L198.47,67.06 L200.08,66.02 L201.68,65.08 L203.29,64.23 L204.89,63.45 L206.49,62.75 L208.10,62.12 L209.70,61.54 L211.30,61.02 L212.91,60.52 L214.51,60.03 L216.12,59.56 L217.72,59.10 L219.32,58.67 L220.93,58.25 L222.53,57.86 L224.14,57.50 L225.74,57.16 L227.34,56.86 L228.95,56.59 L230.55,56.35 L232.15,56.16 L233.76,56.00 L235.36,55.87 L236.97,55.75 L238.57,55.63 L240.17,55.52 L240.57,55.49" stroke="#555" stroke-width="0.9" fill="none" stroke-dasharray="1.3,1.1" stroke-linejoin="round"/>
<path d="M167.28,170.64 L168.08,166.90 L168.88,163.46 L169.69,160.54 L170.49,158.00 L171.29,155.70 L172.09,153.58 L172.89,151.59 L173.69,149.68 L174.50,147.79 L175.30,145.86 L176.10,143.84 L176.90,141.67 L177.70,139.34 L178.51,136.87 L179.31,134.29 L180.11,131.64 L180.91,128.92 L181.71,126.18 L182.52,123.43 L183.32,120.69 L184.12,118.00 L184.92,115.37 L185.72,112.80 L186.53,110.14 L187.33,107.39 L188.13,104.59 L188.93,101.77 L189.73,98.95 L191.34,93.50 L192.94,88.51 L194.54,84.25 L196.15,80.99 L197.75,78.57 L199.36,76.41 L200.96,74.48 L202.56,72.78 L204.17,71.30 L205.77,70.01 L207.38,68.92 L208.98,67.98 L210.58,67.12 L212.19,66.34 L213.79,65.62 L215.39,64.97 L217.00,64.36 L218.60,63.80 L220.21,63.28 L221.81,62.79 L223.41,62.31 L225.02,61.85 L226.62,61.39 L228.23,60.94 L229.83,60.51 L231.43,60.08 L233.04,59.67 L234.64,59.28 L236.24,58.92 L237.85,58.58 L239.45,58.27 L240.57,58.06" stroke="#222" stroke-width="1.1" fill="none" stroke-linejoin="round"/>
<path d="M169.60,170.64 L170.41,166.90 L171.21,163.46 L172.01,160.54 L172.81,158.00 L173.61,155.70 L174.42,153.58 L175.22,151.59 L176.02,149.68 L176.82,147.79 L177.62,145.86 L178.43,143.84 L179.23,141.67 L180.03,139.35 L180.83,136.89 L181.63,134.33 L182.44,131.69 L183.24,128.99 L184.04,126.26 L184.84,123.52 L185.64,120.80 L186.45,118.12 L187.25,115.51 L188.05,112.96 L188.85,110.31 L189.65,107.58 L190.45,104.79 L191.26,101.98 L192.06,99.18 L193.66,93.76 L195.27,88.79 L196.87,84.55 L198.47,81.31 L200.08,78.90 L201.68,76.75 L203.29,74.84 L204.89,73.15 L206.49,71.67 L208.10,70.39 L209.70,69.30 L211.30,68.37 L212.91,67.51 L214.51,66.74 L216.12,66.02 L217.72,65.37 L219.32,64.77 L220.93,64.22 L222.53,63.70 L224.14,63.21 L225.74,62.74 L227.34,62.27 L228.95,61.82 L230.55,61.37 L232.15,60.94 L233.76,60.51 L235.36,60.11 L236.97,59.72 L238.57,59.36 L240.17,59.02 L240.57,58.94" stroke="#222" stroke-width="1.1" fill="none" stroke-linejoin="round"/>
<path d="M180.95,170.64 L181.75,166.90 L182.56,163.46 L183.36,160.54 L184.16,158.00 L184.96,155.70 L185.76,153.58 L186.57,151.59 L187.37,149.68 L188.17,147.79 L188.97,145.86 L189.77,143.84 L190.58,141.67 L191.38,139.32 L192.18,136.84 L192.98,134.25 L193.78,131.58 L194.58,128.86 L195.39,126.10 L196.19,123.33 L196.99,120.58 L197.79,117.87 L198.59,115.23 L199.40,112.65 L200.20,109.98 L201.00,107.21 L201.80,104.40 L202.60,101.55 L203.41,98.73 L205.01,93.25 L206.61,88.23 L208.22,83.94 L209.82,80.67 L211.43,78.23 L213.03,76.06 L214.63,74.13 L216.24,72.42 L217.84,70.93 L219.44,69.64 L221.05,68.53 L222.65,67.59 L224.26,66.72 L225.86,65.94 L227.46,65.22 L229.07,64.56 L230.67,63.95 L232.28,63.39 L233.88,62.87 L235.48,62.37 L237.09,61.89 L238.69,61.43 L240.29,60.97 L240.57,60.89" stroke="#222" stroke-width="1.1" fill="none" stroke-linejoin="round"/>
<path d="M186.85,170.64 L187.65,166.90 L188.45,163.46 L189.25,160.54 L190.05,158.00 L190.86,155.70 L191.66,153.58 L192.46,151.59 L193.26,149.68 L194.06,147.79 L194.87,145.86 L195.67,143.84 L196.47,141.67 L197.27,139.35 L198.07,136.89 L198.88,134.33 L199.68,131.69 L200.48,128.99 L201.28,126.26 L202.08,123.52 L202.88,120.80 L203.69,118.12 L204.49,115.51 L205.29,112.96 L206.09,110.31 L206.89,107.58 L207.70,104.79 L208.50,101.98 L209.30,99.18 L210.90,93.76 L212.51,88.79 L214.11,84.55 L215.72,81.31 L217.32,78.90 L218.92,76.75 L220.53,74.84 L222.13,73.15 L223.73,71.67 L225.34,70.39 L226.94,69.30 L228.55,68.37 L230.15,67.51 L231.75,66.74 L233.36,66.02 L234.96,65.37 L236.57,64.77 L238.17,64.22 L239.77,63.70 L240.57,63.45" stroke="#222" stroke-width="1.1" fill="none" stroke-linejoin="round"/>
</g>
<text x="0" y="0" font-family="Liberation Sans" font-size="16.9" font-weight="bold" text-anchor="start" fill="#000" transform="translate(13.7,148.3) rotate(-90)" stroke="#000" stroke-width="0.3">Fluorescence</text>
<text x="97.7" y="197.4" font-family="Liberation Sans" font-size="16.8" font-weight="bold" text-anchor="start" fill="#000" stroke="#000" stroke-width="0.3">Cycle number</text>
<text x="276.2" y="18.8" font-family="Liberation Sans" font-size="25" font-weight="bold" text-anchor="start" fill="#000" stroke="#000" stroke-width="0.3">Aii</text>
<rect x="334.8" y="29" width="169.4" height="125.5" fill="none" stroke="#000" stroke-width="1.6"/>
<line x1="332.3" y1="154.5" x2="334.8" y2="154.5" stroke="#000" stroke-width="1.3"/>
<text x="333.3" y="159.8" font-family="Liberation Sans" font-size="12.2" font-weight="bold" text-anchor="end" fill="#000" stroke="#000" stroke-width="0.12">0</text>
<line x1="332.3" y1="138.81" x2="334.8" y2="138.81" stroke="#000" stroke-width="1.3"/>
<text x="333.3" y="144.18" font-family="Liberation Sans" font-size="12.2" font-weight="bold" text-anchor="end" fill="#000" stroke="#000" stroke-width="0.12">5</text>
<line x1="332.3" y1="123.12" x2="334.8" y2="123.12" stroke="#000" stroke-width="1.3"/>
<text x="333.3" y="128.55" font-family="Liberation Sans" font-size="12.2" font-weight="bold" text-anchor="end" fill="#000" stroke="#000" stroke-width="0.12">10</text>
<line x1="332.3" y1="107.44" x2="334.8" y2="107.44" stroke="#000" stroke-width="1.3"/>
<text x="333.3" y="112.93" font-family="Liberation Sans" font-size="12.2" font-weight="bold" text-anchor="end" fill="#000" stroke="#000" stroke-width="0.12">15</text>
<line x1="332.3" y1="91.75" x2="334.8" y2="91.75" stroke="#000" stroke-width="1.3"/>
<text x="333.3" y="97.3" font-family="Liberation Sans" font-size="12.2" font-weight="bold" text-anchor="end" fill="#000" stroke="#000" stroke-width="0.12">20</text>
<line x1="332.3" y1="76.06" x2="334.8" y2="76.06" stroke="#000" stroke-width="1.3"/>
<text x="333.3" y="81.68" font-family="Liberation Sans" font-size="12.2" font-weight="bold" text-anchor="end" fill="#000" stroke="#000" stroke-width="0.12">25</text>
<line x1="332.3" y1="60.38" x2="334.8" y2="60.38" stroke="#000" stroke-width="1.3"/>
<text x="333.3" y="66.05" font-family="Liberation Sans" font-size="12.2" font-weight="bold" text-anchor="end" fill="#000" stroke="#000" stroke-width="0.12">30</text>
<line x1="332.3" y1="44.69" x2="334.8" y2="44.69" stroke="#000" stroke-width="1.3"/>
<text x="333.3" y="50.43" font-family="Liberation Sans" font-size="12.2" font-weight="bold" text-anchor="end" fill="#000" stroke="#000" stroke-width="0.12">35</text>
<line x1="332.3" y1="29" x2="334.8" y2="29" stroke="#000" stroke-width="1.3"/>
<text x="333.3" y="34.8" font-family="Liberation Sans" font-size="12.2" font-weight="bold" text-anchor="end" fill="#000" stroke="#000" stroke-width="0.12">40</text>
<line x1="334.8" y1="154.5" x2="334.8" y2="157.5" stroke="#000" stroke-width="1.3"/>
<line x1="368.68" y1="154.5" x2="368.68" y2="157.5" stroke="#000" stroke-width="1.3"/>
<line x1="402.56" y1="154.5" x2="402.56" y2="157.5" stroke="#000" stroke-width="1.3"/>
<line x1="436.44" y1="154.5" x2="436.44" y2="157.5" stroke="#000" stroke-width="1.3"/>
<line x1="470.32" y1="154.5" x2="470.32" y2="157.5" stroke="#000" stroke-width="1.3"/>
<line x1="504.2" y1="154.5" x2="504.2" y2="157.5" stroke="#000" stroke-width="1.3"/>
<text x="335.2" y="168.9" font-family="Liberation Sans" font-size="12" font-weight="bold" text-anchor="middle" fill="#000" stroke="#000" stroke-width="0.12">1</text>
<text x="369.2" y="170.2" font-family="Liberation Sans" font-size="12" font-weight="bold" text-anchor="middle">10<tspan font-size="8.2" baseline-shift="4.2">2</tspan></text>
<text x="404.9" y="170.2" font-family="Liberation Sans" font-size="12" font-weight="bold" text-anchor="middle">10<tspan font-size="8.2" baseline-shift="4.2">4</tspan></text>
<text x="438.2" y="170.2" font-family="Liberation Sans" font-size="12" font-weight="bold" text-anchor="middle">10<tspan font-size="8.2" baseline-shift="4.2">6</tspan></text>
<text x="471.5" y="170.2" font-family="Liberation Sans" font-size="12" font-weight="bold" text-anchor="middle">10<tspan font-size="8.2" baseline-shift="4.2">8</tspan></text>
<text x="507" y="170.2" font-family="Liberation Sans" font-size="12" font-weight="bold" text-anchor="middle">10<tspan font-size="8.2" baseline-shift="4.2">10</tspan></text>
<line x1="339.88" y1="45.35" x2="474.55" y2="129.41" stroke="#000" stroke-width="2.0"/>
<path d="M334.8,40.82 L336.9,43.12 L334.8,45.42 L332.7,43.12Z" fill="#000"/>
<path d="M356.82,53.62 L358.92,55.92 L356.82,58.22 L354.72,55.92Z" fill="#000"/>
<path d="M373.76,64.2 L375.86,66.5 L373.76,68.8 L371.66,66.5Z" fill="#000"/>
<path d="M389.01,73.71 L391.11,76.01 L389.01,78.31 L386.91,76.01Z" fill="#000"/>
<path d="M407.3,85.13 L409.4,87.43 L407.3,89.73 L405.2,87.43Z" fill="#000"/>
<path d="M440.67,105.96 L442.77,108.26 L440.67,110.56 L438.57,108.26Z" fill="#000"/>
<path d="M474.55,127.11 L476.65,129.41 L474.55,131.71 L472.45,129.41Z" fill="#000"/>
<text x="394.6" y="52.8" font-family="Liberation Sans" font-size="12.35" font-weight="bold" text-anchor="start" fill="#000" stroke="#000" stroke-width="0.12">y = -3.37x + 35.8</text>
<text x="0" y="0" font-family="Liberation Sans" font-size="13.9" font-weight="bold" text-anchor="start" fill="#000" transform="translate(304.4,147.5) rotate(-90)" stroke="#000" stroke-width="0.12">Threshold cycle</text>
<text x="338.8" y="191.8" font-family="Liberation Sans" font-size="13.9" font-weight="bold" text-anchor="start" fill="#000" stroke="#000" stroke-width="0.12">Log (transcript number)</text>
<text x="0.5" y="235.8" font-family="Liberation Sans" font-size="25" font-weight="bold" text-anchor="start" fill="#000" stroke="#000" stroke-width="0.3">Bi</text>
<line x1="44" y1="244.2" x2="206.6" y2="244.2" stroke="#000" stroke-width="1.4"/>
<line x1="44" y1="244.2" x2="44" y2="354.2" stroke="#000" stroke-width="1.8"/>
<line x1="206.6" y1="244.2" x2="206.6" y2="354.2" stroke="#000" stroke-width="1.8"/>
<line x1="43.1" y1="354.2" x2="207.5" y2="354.2" stroke="#000" stroke-width="2.2"/>
<line x1="41.5" y1="354.2" x2="44" y2="354.2" stroke="#000" stroke-width="1.3"/>
<text x="0" y="0" font-family="Liberation Sans" font-size="10" font-weight="bold" text-anchor="end" fill="#000" transform="translate(37.1,357.9) scale(0.9,1)" stroke="#000" stroke-width="0.2">0</text>
<line x1="41.5" y1="332.2" x2="44" y2="332.2" stroke="#000" stroke-width="1.3"/>
<text x="0" y="0" font-family="Liberation Sans" font-size="10" font-weight="bold" text-anchor="end" fill="#000" transform="translate(37.1,335.9) scale(0.9,1)" stroke="#000" stroke-width="0.2">1</text>
<line x1="41.5" y1="310.2" x2="44" y2="310.2" stroke="#000" stroke-width="1.3"/>
<text x="0" y="0" font-family="Liberation Sans" font-size="10" font-weight="bold" text-anchor="end" fill="#000" transform="translate(37.1,313.9) scale(0.9,1)" stroke="#000" stroke-width="0.2">2</text>
<line x1="41.5" y1="288.2" x2="44" y2="288.2" stroke="#000" stroke-width="1.3"/>
<text x="0" y="0" font-family="Liberation Sans" font-size="10" font-weight="bold" text-anchor="end" fill="#000" transform="translate(37.1,291.9) scale(0.9,1)" stroke="#000" stroke-width="0.2">3</text>
<line x1="41.5" y1="266.2" x2="44" y2="266.2" stroke="#000" stroke-width="1.3"/>
<text x="0" y="0" font-family="Liberation Sans" font-size="10" font-weight="bold" text-anchor="end" fill="#000" transform="translate(37.1,269.9) scale(0.9,1)" stroke="#000" stroke-width="0.2">4</text>
<line x1="41.5" y1="244.2" x2="44" y2="244.2" stroke="#000" stroke-width="1.3"/>
<text x="0" y="0" font-family="Liberation Sans" font-size="10" font-weight="bold" text-anchor="end" fill="#000" transform="translate(37.1,247.9) scale(0.9,1)" stroke="#000" stroke-width="0.2">5</text>
<line x1="206.6" y1="354.2" x2="209.1" y2="354.2" stroke="#000" stroke-width="1.3"/>
<text x="216.2" y="357.6" font-family="Liberation Sans" font-size="8.8" font-weight="bold" text-anchor="middle" fill="#000">0</text>
<line x1="206.6" y1="343.2" x2="209.1" y2="343.2" stroke="#000" stroke-width="1.3"/>
<text x="216.2" y="346.6" font-family="Liberation Sans" font-size="8.8" font-weight="bold" text-anchor="middle" fill="#000">1</text>
<line x1="206.6" y1="332.2" x2="209.1" y2="332.2" stroke="#000" stroke-width="1.3"/>
<text x="216.2" y="335.6" font-family="Liberation Sans" font-size="8.8" font-weight="bold" text-anchor="middle" fill="#000">2</text>
<line x1="206.6" y1="310.2" x2="209.1" y2="310.2" stroke="#000" stroke-width="1.3"/>
<text x="216.2" y="313.6" font-family="Liberation Sans" font-size="8.8" font-weight="bold" text-anchor="middle" fill="#000">4</text>
<line x1="206.6" y1="288.2" x2="209.1" y2="288.2" stroke="#000" stroke-width="1.3"/>
<text x="216.2" y="291.6" font-family="Liberation Sans" font-size="8.8" font-weight="bold" text-anchor="middle" fill="#000">6</text>
<line x1="206.6" y1="266.2" x2="209.1" y2="266.2" stroke="#000" stroke-width="1.3"/>
<text x="216.2" y="269.6" font-family="Liberation Sans" font-size="8.8" font-weight="bold" text-anchor="middle" fill="#000">8</text>
<line x1="206.6" y1="244.2" x2="209.1" y2="244.2" stroke="#000" stroke-width="1.3"/>
<text x="215" y="247.6" font-family="Liberation Sans" font-size="8.8" font-weight="bold" text-anchor="middle" fill="#000">10</text>
<line x1="57" y1="327.8" x2="57" y2="334.18" stroke="#000" stroke-width="1.5"/>
<line x1="53.6" y1="328" x2="60.4" y2="328" stroke="#000" stroke-width="1.8"/>
<rect x="51.4" y="334.98" width="11.2" height="19.22" fill="#fff" stroke="#000" stroke-width="1.6"/>
<line x1="72.95" y1="299.2" x2="72.95" y2="302.06" stroke="#000" stroke-width="1.5"/>
<line x1="69.55" y1="299.4" x2="76.35" y2="299.4" stroke="#000" stroke-width="1.8"/>
<rect x="67.5" y="302.86" width="10.9" height="51.34" fill="#fff" stroke="#000" stroke-width="1.6"/>
<rect x="83.3" y="343.34" width="11.2" height="10.86" fill="#fff" stroke="#000" stroke-width="1.6"/>
<line x1="119.65" y1="330" x2="119.65" y2="334.84" stroke="#000" stroke-width="1.5"/>
<line x1="116.25" y1="330.2" x2="123.05" y2="330.2" stroke="#000" stroke-width="1.8"/>
<rect x="113.6" y="335.64" width="12.1" height="18.56" fill="#000" stroke="#000" stroke-width="1.6"/>
<line x1="135.25" y1="275.44" x2="135.25" y2="277.64" stroke="#000" stroke-width="1.5"/>
<line x1="131.85" y1="275.64" x2="138.65" y2="275.64" stroke="#000" stroke-width="1.8"/>
<rect x="129.3" y="278.44" width="11.9" height="75.76" fill="#000" stroke="#000" stroke-width="1.6"/>
<line x1="151" y1="305.14" x2="151" y2="310.2" stroke="#000" stroke-width="1.5"/>
<line x1="147.6" y1="305.34" x2="154.4" y2="305.34" stroke="#000" stroke-width="1.8"/>
<rect x="144.8" y="311" width="12.4" height="43.2" fill="#000" stroke="#000" stroke-width="1.6"/>
<line x1="166.65" y1="301.84" x2="166.65" y2="307.56" stroke="#000" stroke-width="1.5"/>
<line x1="163.25" y1="302.04" x2="170.05" y2="302.04" stroke="#000" stroke-width="1.8"/>
<rect x="160.5" y="308.36" width="12.3" height="45.84" fill="#000" stroke="#000" stroke-width="1.6"/>
<line x1="182.25" y1="337.7" x2="182.25" y2="341.88" stroke="#000" stroke-width="1.5"/>
<line x1="178.85" y1="337.9" x2="185.65" y2="337.9" stroke="#000" stroke-width="1.8"/>
<rect x="176.1" y="342.68" width="12.3" height="11.52" fill="#000" stroke="#000" stroke-width="1.6"/>
<rect x="49.65" y="249.45" width="11.4" height="6.3" fill="#fff" stroke="#000" stroke-width="1.7"/>
<rect x="48.8" y="259.2" width="13.1" height="8" fill="#000" stroke="none" stroke-width="0"/>
<text x="66" y="255.8" font-family="Liberation Sans" font-size="9.6" font-weight="bold" text-anchor="start" fill="#000" stroke="#000" stroke-width="0.2">Mouse BM</text>
<text x="66" y="266.8" font-family="Liberation Sans" font-size="9.6" font-weight="bold" text-anchor="start" fill="#000" stroke="#000" stroke-width="0.2">Human BM</text>
<text class="cat" x="0" y="0" font-family="Liberation Sans" font-size="9.3" font-weight="bold" stroke="#000" stroke-width="0.2" text-anchor="end" transform="translate(58.7,363.8) rotate(-45)">Total</text>
<text class="cat" x="0" y="0" font-family="Liberation Sans" font-size="9.3" font-weight="bold" stroke="#000" stroke-width="0.2" text-anchor="end" transform="translate(76.7,363.8) rotate(-45)">Sca-1<tspan font-size="5.5" baseline-shift="3.6">+</tspan>lin<tspan font-size="5.5" baseline-shift="3.6">-</tspan></text>
<text class="cat" x="0" y="0" font-family="Liberation Sans" font-size="9.3" font-weight="bold" stroke="#000" stroke-width="0.2" text-anchor="end" transform="translate(89.7,366.8) rotate(-45)">lin<tspan font-size="5.5" baseline-shift="3.6">+</tspan></text>
<text class="cat" x="0" y="0" font-family="Liberation Sans" font-size="9.3" font-weight="bold" stroke="#000" stroke-width="0.2" text-anchor="end" transform="translate(119.7,363.8) rotate(-45)">Total</text>
<text class="cat" x="0" y="0" font-family="Liberation Sans" font-size="9.3" font-weight="bold" stroke="#000" stroke-width="0.2" text-anchor="end" transform="translate(138.7,363.8) rotate(-45)">lin<tspan font-size="5.5" baseline-shift="3.6">-</tspan>CD34<tspan font-size="5.5" baseline-shift="3.6">+</tspan>38<tspan font-size="5.5" baseline-shift="3.6">-</tspan></text>
<text class="cat" x="0" y="0" font-family="Liberation Sans" font-size="9.3" font-weight="bold" stroke="#000" stroke-width="0.2" text-anchor="end" transform="translate(153.7,364.8) rotate(-45)">lin<tspan font-size="5.5" baseline-shift="3.6">-</tspan>CD34<tspan font-size="5.5" baseline-shift="3.6">+</tspan>38<tspan font-size="5.5" baseline-shift="3.6">+</tspan></text>
<text class="cat" x="0" y="0" font-family="Liberation Sans" font-size="9.3" font-weight="bold" stroke="#000" stroke-width="0.2" text-anchor="end" transform="translate(168.7,364.8) rotate(-45)">lin<tspan font-size="5.5" baseline-shift="3.6">-</tspan>CD34<tspan font-size="5.5" baseline-shift="3.6">+</tspan></text>
<text class="cat" x="0" y="0" font-family="Liberation Sans" font-size="9.3" font-weight="bold" stroke="#000" stroke-width="0.2" text-anchor="end" transform="translate(183.7,363.8) rotate(-45)">lin<tspan font-size="5.5" baseline-shift="3.6">+</tspan>CD34<tspan font-size="5.5" baseline-shift="3.6">-</tspan></text>
<text x="0" y="0" font-family="Liberation Sans" font-size="9.6" font-weight="bold" text-anchor="start" fill="#000" transform="translate(9.9,348.2) rotate(-90)" stroke="#000" stroke-width="0.2">Absolute transcript no/</text>
<text x="0" y="0" font-family="Liberation Sans" font-size="9.8" font-weight="bold" text-anchor="start" fill="#000" transform="translate(21.3,334.3) rotate(-90)" stroke="#000" stroke-width="0.2"><tspan font-weight="normal" stroke-width="0">µ</tspan>g RNA&#160; (x10<tspan font-size="7" baseline-shift="3.4">4</tspan>)</text>
<text x="0" y="0" font-family="Liberation Sans" font-size="10.3" font-weight="bold" text-anchor="start" fill="#000" transform="translate(235.6,355.2) rotate(-90)" stroke="#000" stroke-width="0.2">Fold-change relative to</text>
<text x="0" y="0" font-family="Liberation Sans" font-size="10.3" font-weight="bold" text-anchor="start" fill="#000" transform="translate(246.4,323.8) rotate(-90)" stroke="#000" stroke-width="0.2">lin<tspan font-size="5.5" baseline-shift="3.6">+</tspan> cells</text>
<text x="277.5" y="226.6" font-family="Liberation Sans" font-size="25" font-weight="bold" text-anchor="start" fill="#000" stroke="#000" stroke-width="0.3">Bii</text>
<line x1="318.6" y1="246.2" x2="480.1" y2="246.2" stroke="#000" stroke-width="1.4"/>
<line x1="318.6" y1="246.2" x2="318.6" y2="356.3" stroke="#000" stroke-width="1.8"/>
<line x1="480.1" y1="246.2" x2="480.1" y2="356.3" stroke="#000" stroke-width="1.8"/>
<line x1="317.7" y1="356.3" x2="481" y2="356.3" stroke="#000" stroke-width="2.2"/>
<line x1="316.1" y1="356.3" x2="318.6" y2="356.3" stroke="#000" stroke-width="1.3"/>
<text x="0" y="0" font-family="Liberation Sans" font-size="10" font-weight="bold" text-anchor="end" fill="#000" transform="translate(311.7,360) scale(0.9,1)" stroke="#000" stroke-width="0.2">0</text>
<line x1="316.1" y1="334.28" x2="318.6" y2="334.28" stroke="#000" stroke-width="1.3"/>
<text x="0" y="0" font-family="Liberation Sans" font-size="10" font-weight="bold" text-anchor="end" fill="#000" transform="translate(311.7,337.98) scale(0.9,1)" stroke="#000" stroke-width="0.2">0.5</text>
<line x1="316.1" y1="312.26" x2="318.6" y2="312.26" stroke="#000" stroke-width="1.3"/>
<text x="0" y="0" font-family="Liberation Sans" font-size="10" font-weight="bold" text-anchor="end" fill="#000" transform="translate(311.7,315.96) scale(0.9,1)" stroke="#000" stroke-width="0.2">1</text>
<line x1="316.1" y1="290.24" x2="318.6" y2="290.24" stroke="#000" stroke-width="1.3"/>
<text x="0" y="0" font-family="Liberation Sans" font-size="10" font-weight="bold" text-anchor="end" fill="#000" transform="translate(311.7,293.94) scale(0.9,1)" stroke="#000" stroke-width="0.2">1.5</text>
<line x1="316.1" y1="268.22" x2="318.6" y2="268.22" stroke="#000" stroke-width="1.3"/>
<text x="0" y="0" font-family="Liberation Sans" font-size="10" font-weight="bold" text-anchor="end" fill="#000" transform="translate(311.7,271.92) scale(0.9,1)" stroke="#000" stroke-width="0.2">2</text>
<line x1="316.1" y1="246.2" x2="318.6" y2="246.2" stroke="#000" stroke-width="1.3"/>
<text x="0" y="0" font-family="Liberation Sans" font-size="10" font-weight="bold" text-anchor="end" fill="#000" transform="translate(311.7,249.9) scale(0.9,1)" stroke="#000" stroke-width="0.2">2.5</text>
<line x1="480.1" y1="356.3" x2="482.6" y2="356.3" stroke="#000" stroke-width="1.3"/>
<text x="490" y="359.7" font-family="Liberation Sans" font-size="8.8" font-weight="bold" text-anchor="middle" fill="#000">0</text>
<line x1="480.1" y1="345.29" x2="482.6" y2="345.29" stroke="#000" stroke-width="1.3"/>
<text x="490" y="348.69" font-family="Liberation Sans" font-size="8.8" font-weight="bold" text-anchor="middle" fill="#000">1</text>
<line x1="480.1" y1="334.28" x2="482.6" y2="334.28" stroke="#000" stroke-width="1.3"/>
<text x="490" y="337.68" font-family="Liberation Sans" font-size="8.8" font-weight="bold" text-anchor="middle" fill="#000">2</text>
<line x1="480.1" y1="312.26" x2="482.6" y2="312.26" stroke="#000" stroke-width="1.3"/>
<text x="490" y="315.66" font-family="Liberation Sans" font-size="8.8" font-weight="bold" text-anchor="middle" fill="#000">4</text>
<line x1="480.1" y1="290.24" x2="482.6" y2="290.24" stroke="#000" stroke-width="1.3"/>
<text x="490" y="293.64" font-family="Liberation Sans" font-size="8.8" font-weight="bold" text-anchor="middle" fill="#000">6</text>
<line x1="480.1" y1="268.22" x2="482.6" y2="268.22" stroke="#000" stroke-width="1.3"/>
<text x="490" y="271.62" font-family="Liberation Sans" font-size="8.8" font-weight="bold" text-anchor="middle" fill="#000">8</text>
<line x1="480.1" y1="246.2" x2="482.6" y2="246.2" stroke="#000" stroke-width="1.3"/>
<text x="490" y="249.6" font-family="Liberation Sans" font-size="8.8" font-weight="bold" text-anchor="middle" fill="#000">10</text>
<rect x="329" y="347.85" width="11.5" height="8.45" fill="#fff" stroke="#000" stroke-width="1.6"/>
<line x1="351.1" y1="284.51" x2="351.1" y2="292" stroke="#000" stroke-width="1.5"/>
<line x1="347.7" y1="284.71" x2="354.5" y2="284.71" stroke="#000" stroke-width="1.8"/>
<rect x="345.8" y="292.8" width="10.6" height="63.5" fill="#fff" stroke="#000" stroke-width="1.6"/>
<line x1="367.1" y1="277.91" x2="367.1" y2="288.04" stroke="#000" stroke-width="1.5"/>
<line x1="363.7" y1="278.11" x2="370.5" y2="278.11" stroke="#000" stroke-width="1.8"/>
<rect x="361.6" y="288.84" width="11" height="67.46" fill="#fff" stroke="#000" stroke-width="1.6"/>
<line x1="382.95" y1="274.83" x2="382.95" y2="281.43" stroke="#000" stroke-width="1.5"/>
<line x1="379.55" y1="275.03" x2="386.35" y2="275.03" stroke="#000" stroke-width="1.8"/>
<rect x="377.2" y="282.23" width="11.5" height="74.07" fill="#fff" stroke="#000" stroke-width="1.6"/>
<line x1="416.1" y1="343.97" x2="416.1" y2="346.61" stroke="#000" stroke-width="1.5"/>
<line x1="412.7" y1="344.17" x2="419.5" y2="344.17" stroke="#000" stroke-width="1.8"/>
<rect x="409.8" y="347.41" width="12.6" height="8.89" fill="#000" stroke="#000" stroke-width="1.6"/>
<line x1="431.95" y1="315.78" x2="431.95" y2="323.27" stroke="#000" stroke-width="1.5"/>
<line x1="428.55" y1="315.98" x2="435.35" y2="315.98" stroke="#000" stroke-width="1.8"/>
<rect x="426" y="324.07" width="11.9" height="32.23" fill="#000" stroke="#000" stroke-width="1.6"/>
<line x1="448.4" y1="317.54" x2="448.4" y2="322.39" stroke="#000" stroke-width="1.5"/>
<line x1="445" y1="317.74" x2="451.8" y2="317.74" stroke="#000" stroke-width="1.8"/>
<rect x="442.1" y="323.19" width="12.6" height="33.11" fill="#000" stroke="#000" stroke-width="1.6"/>
<line x1="464.2" y1="280.11" x2="464.2" y2="287.6" stroke="#000" stroke-width="1.5"/>
<line x1="460.8" y1="280.31" x2="467.6" y2="280.31" stroke="#000" stroke-width="1.8"/>
<rect x="458.2" y="288.4" width="12" height="67.9" fill="#000" stroke="#000" stroke-width="1.6"/>
<rect x="323.25" y="250.05" width="10.6" height="5.2" fill="#fff" stroke="#000" stroke-width="1.7"/>
<rect x="322.4" y="260.7" width="12.3" height="6.9" fill="#000" stroke="none" stroke-width="0"/>
<text x="337.6" y="255.6" font-family="Liberation Sans" font-size="9.6" font-weight="bold" text-anchor="start" fill="#000" stroke="#000" stroke-width="0.2">Mouse BM</text>
<text x="337.6" y="267.3" font-family="Liberation Sans" font-size="9.6" font-weight="bold" text-anchor="start" fill="#000" stroke="#000" stroke-width="0.2">Human BM</text>
<text class="cat" x="0" y="0" font-family="Liberation Sans" font-size="9.3" font-weight="bold" stroke="#000" stroke-width="0.2" text-anchor="end" transform="translate(336.7,364.3) rotate(-45)">Gr-1/Mac-1</text>
<text class="cat" x="0" y="0" font-family="Liberation Sans" font-size="9.3" font-weight="bold" stroke="#000" stroke-width="0.2" text-anchor="end" transform="translate(355.2,363.3) rotate(-45)">Ly-1</text>
<text class="cat" x="0" y="0" font-family="Liberation Sans" font-size="9.3" font-weight="bold" stroke="#000" stroke-width="0.2" text-anchor="end" transform="translate(371.7,363.8) rotate(-45)">Ter119</text>
<text class="cat" x="0" y="0" font-family="Liberation Sans" font-size="9.3" font-weight="bold" stroke="#000" stroke-width="0.2" text-anchor="end" transform="translate(389.7,362.8) rotate(-45)">B220</text>
<text class="cat" x="0" y="0" font-family="Liberation Sans" font-size="9.3" font-weight="bold" stroke="#000" stroke-width="0.2" text-anchor="end" transform="translate(419.7,362.8) rotate(-45)">CD15/66b</text>
<text class="cat" x="0" y="0" font-family="Liberation Sans" font-size="9.3" font-weight="bold" stroke="#000" stroke-width="0.2" text-anchor="end" transform="translate(436.2,364.3) rotate(-45)">CD3</text>
<text class="cat" x="0" y="0" font-family="Liberation Sans" font-size="9.3" font-weight="bold" stroke="#000" stroke-width="0.2" text-anchor="end" transform="translate(452.2,362.8) rotate(-45)">Gly-A</text>
<text class="cat" x="0" y="0" font-family="Liberation Sans" font-size="9.3" font-weight="bold" stroke="#000" stroke-width="0.2" text-anchor="end" transform="translate(469.2,362.8) rotate(-45)">CD19</text>
<text x="0" y="0" font-family="Liberation Sans" font-size="9.6" font-weight="bold" text-anchor="start" fill="#000" transform="translate(283.2,349.9) rotate(-90)" stroke="#000" stroke-width="0.2">Absolute transcript no/</text>
<text x="0" y="0" font-family="Liberation Sans" font-size="9.8" font-weight="bold" text-anchor="start" fill="#000" transform="translate(293.6,336.6) rotate(-90)" stroke="#000" stroke-width="0.2"><tspan font-weight="normal" stroke-width="0">µ</tspan>g RNA&#160; (x10<tspan font-size="7" baseline-shift="3.4">4</tspan>)</text>
<text x="0" y="0" font-family="Liberation Sans" font-size="9.75" font-weight="bold" text-anchor="start" fill="#000" transform="translate(509.2,352) rotate(-90)" stroke="#000" stroke-width="0.2">Fold-change relative to</text>
<text x="0" y="0" font-family="Liberation Sans" font-size="9.6" font-weight="bold" text-anchor="start" fill="#000" transform="translate(519.2,320) rotate(-90)" stroke="#000" stroke-width="0.2">GM cells</text>
</svg>
</body></html>
